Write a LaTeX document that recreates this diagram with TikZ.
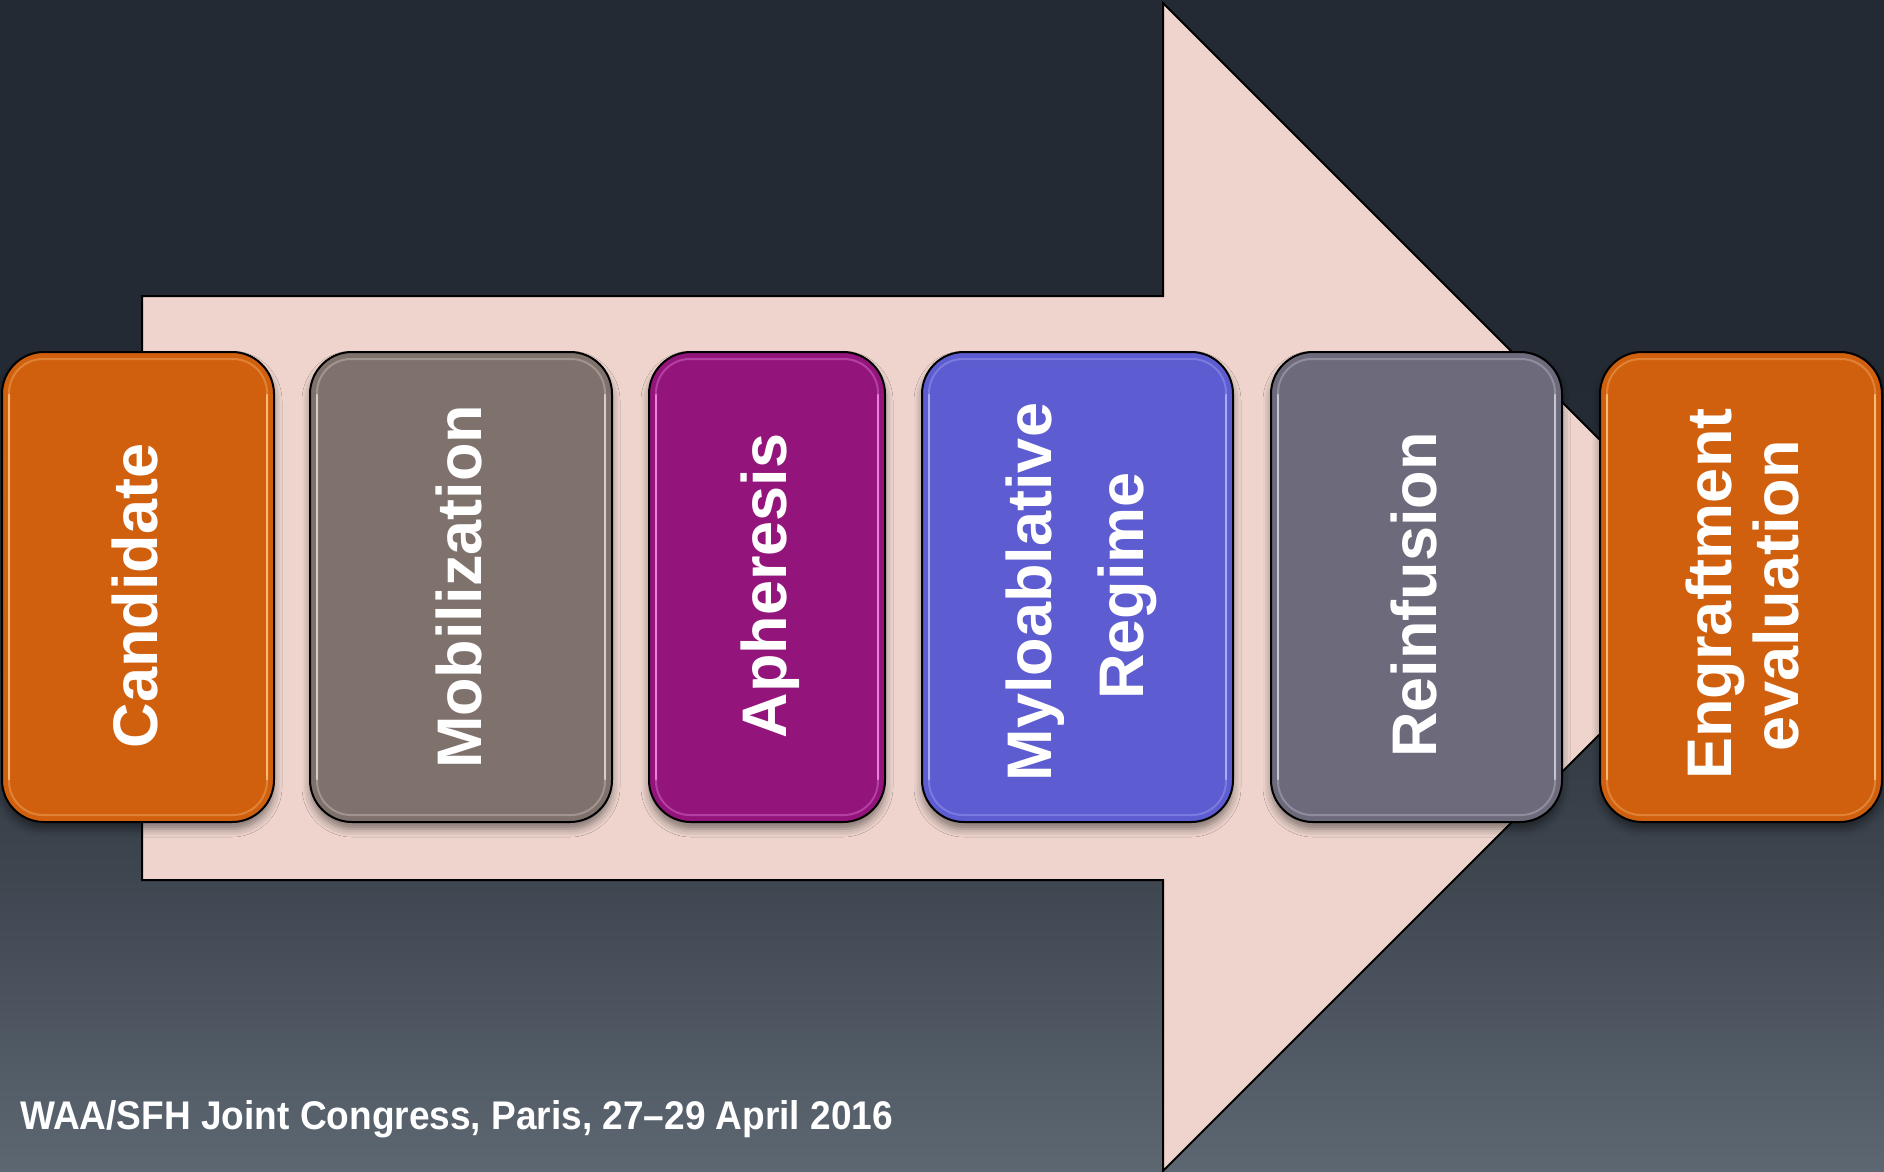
\documentclass[tikz,border=0pt]{standalone}
\usepackage{fontspec}
\setmainfont{Liberation Sans}
\usetikzlibrary{calc,shadows.blur}

% palette
\definecolor{bgtop}{RGB}{35,42,51}
\definecolor{bgmidA}{RGB}{41,48,57}
\definecolor{bgmidB}{RGB}{62,70,80}
\definecolor{bgbot}{RGB}{93,103,114}
\definecolor{arrowpink}{RGB}{238,212,205}
\definecolor{orangebox}{RGB}{208,96,14}
\definecolor{orangehl}{RGB}{255,196,130}
\definecolor{taupebox}{RGB}{127,113,107}
\definecolor{taupehl}{RGB}{226,216,210}
\definecolor{plumbox}{RGB}{147,21,124}
\definecolor{plumhl}{RGB}{245,140,235}
\definecolor{bluebox}{RGB}{93,92,208}
\definecolor{bluehl}{RGB}{180,180,255}
\definecolor{slatebox}{RGB}{109,106,124}
\definecolor{slatehl}{RGB}{206,206,220}

% TikZ fits the path to the 25bp--75bp band of a vertical shading
\pgfdeclareverticalshading{backdrop}{100bp}{%
  color(0bp)=(bgbot); color(25bp)=(bgbot); color(37.5bp)=(bgmidB);
  color(50bp)=(bgmidA); color(59bp)=(bgtop); color(100bp)=(bgtop)}

% glossy rim inside a step box
\newcommand{\boxgloss}[2]{%
  \draw[#2, line width=2pt, opacity=.35, rounded corners=34pt]
    ($(#1.north west)+(8,8)$) rectangle ($(#1.south east)+(-8,-8)$);
  \draw[#2, line width=2.5pt, opacity=.85, line cap=round]
    ($(#1.north west)+(8,44)$) -- ($(#1.south west)+(8,-44)$);
  \draw[#2, line width=2.5pt, opacity=.85, line cap=round]
    ($(#1.north east)+(-8,44)$) -- ($(#1.south east)+(-8,-44)$);
}

\begin{document}
\begin{tikzpicture}[x=1pt,y=-1pt,
  stepbox/.style={draw=black, line width=2pt, rounded corners=42pt,
    minimum height=470pt, inner sep=0pt,
    blur shadow={shadow xshift=0pt, shadow yshift=-7pt,
      shadow blur radius=8pt, shadow opacity=45}},
  steplabel/.style={text=white, rotate=90, anchor=base, inner sep=0pt,
    font=\fontsize{63}{63}\selectfont\bfseries},
  footer/.style={text=white, anchor=base west, inner sep=0pt,
    font=\fontsize{40}{40}\selectfont\bfseries}]

\useasboundingbox (0,0) rectangle (1884,1171);
\shade[shading=backdrop] (0,0) rectangle (1884,1171);

% big process arrow
\draw[fill=arrowpink, draw=black, line width=2pt, line join=miter]
  (142,296) -- (1163,296) -- (1163,3) -- (1747,587) -- (1163,1171)
  -- (1163,880) -- (142,880) -- cycle;

% step boxes
\node[stepbox, fill=orangebox, minimum width=272pt] (b1) at (138,587) {};
\node[stepbox, fill=taupebox,  minimum width=302pt] (b2) at (461,587) {};
\node[stepbox, fill=plumbox,   minimum width=236pt] (b3) at (767,587) {};
\node[stepbox, fill=bluebox,   minimum width=311pt] (b4) at (1077.5,587) {};
\node[stepbox, fill=slatebox,  minimum width=291pt] (b5) at (1416.5,587) {};
\node[stepbox, fill=orangebox, minimum width=282pt] (b6) at (1741,587) {};

\boxgloss{b1}{orangehl}
\boxgloss{b2}{taupehl}
\boxgloss{b3}{plumhl}
\boxgloss{b4}{bluehl}
\boxgloss{b5}{slatehl}
\boxgloss{b6}{orangehl}

% step labels
\node[steplabel] (t1)  at (157,596)  {Candidate};
\node[steplabel] (t2)  at (481,587)  {Mobilization};
\node[steplabel] (t3)  at (786,586)  {Apheresis};
\node[steplabel] (t4a) at (1051,592) {Myloablative};
\node[steplabel] (t4b) at (1143,586) {Regime};
\node[steplabel] (t5)  at (1436,595) {Reinfusion};
\node[steplabel] (t6a) at (1731,594) {Engraftment};
\node[steplabel] (t6b) at (1798,596) {evaluation};

% footer
\node[footer] (credit) at (20,1129)
  {\scalebox{0.926}[1]{WAA/SFH Joint Congress, Paris, 27–29 April 2016}};

\end{tikzpicture}
\end{document}
